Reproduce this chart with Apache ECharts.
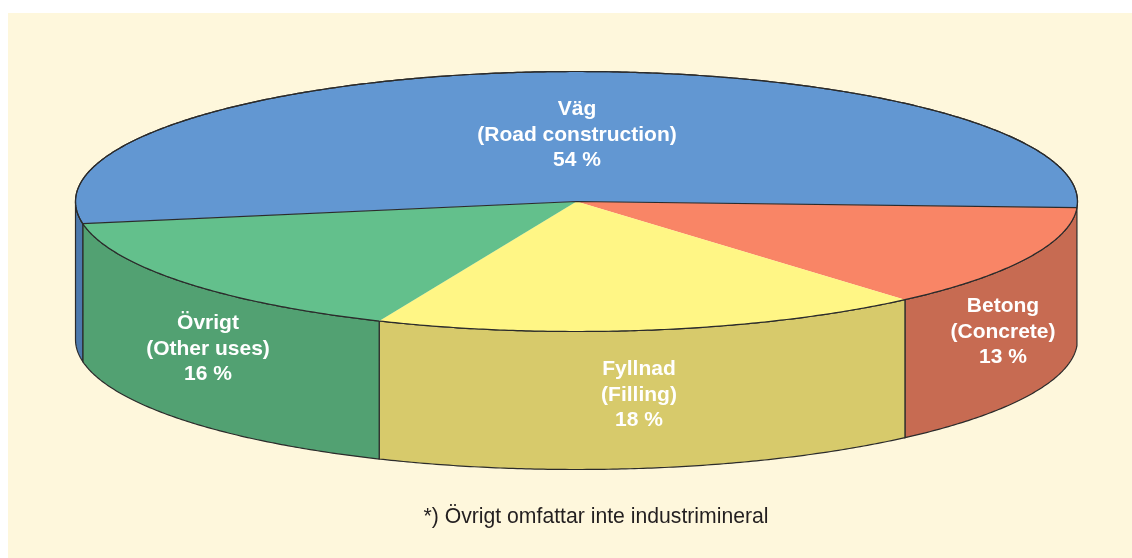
<!DOCTYPE html>
<html>
<head>
<meta charset="utf-8">
<style>
  html, body { margin: 0; padding: 0; background: #fff; }
  #chart { width: 1132px; height: 558px; }
</style>
<script src="https://cdn.jsdelivr.net/npm/echarts@6/dist/echarts.min.js"></script>
</head>
<body>
<div id="chart"></div>
<script>
// clockwise from the right hand side of the disc
const names = ["Betong\n(Concrete)", "Fyllnad\n(Filling)", "Övrigt\n(Other uses)", "Väg\n(Road construction)"];
const shares = [13, 18, 16, 54];
const footnote = "*) Övrigt omfattar inte industrimineral";

const topColors = ["#f98566", "#fff685", "#63c08c", "#6297d2"];
const sideColors = ["#c76b52", "#d7ca6b", "#52a172", "#4c79ad"];
const labelAt = [[1003, 332], [639, 395], [208, 349], [577, 135]];

const cx = 576.5, cy = 201.5, rx = 501, ry = 130, depth = 138;
const startDeg = 2.7;
const lineColor = "#2b2b2b";
const total = shares.reduce((a, b) => a + b, 0);

function sliceRange(i) {
  let from = startDeg;
  for (let k = 0; k < i; k++) from += shares[k] / total * 360;
  return [from, from + shares[i] / total * 360];
}

function arc(from, to, dy) {
  const pts = [];
  const n = Math.max(2, Math.ceil(Math.abs(to - from) * 2));
  for (let k = 0; k <= n; k++) {
    const a = (from + (to - from) * k / n) * Math.PI / 180;
    pts.push([cx + rx * Math.cos(a), cy + ry * Math.sin(a) + dy]);
  }
  return pts;
}

// wall of the disc, only the front half (0-180 deg) can be seen
function renderSide(params) {
  const i = params.dataIndex;
  const [from, to] = sliceRange(i);
  const ranges = [[Math.max(from, 0), Math.min(to, 180)]].filter((r) => r[1] > r[0]);
  return {
    type: "group",
    children: ranges.map((r) => ({
      type: "polygon",
      shape: { points: arc(r[0], r[1], 0).concat(arc(r[1], r[0], depth)) },
      style: { fill: sideColors[i], stroke: lineColor, lineWidth: 1.2 },
    })),
  };
}

function renderTop(params) {
  const i = params.dataIndex;
  const [from, to] = sliceRange(i);
  const rim = arc(from, to, 0);
  const closed = i === names.length - 1;
  return {
    type: "group",
    children: [
      {
        type: "polygon",
        shape: { points: [[cx, cy]].concat(rim) },
        style: { fill: topColors[i], stroke: closed ? lineColor : null, lineWidth: 1.2 },
      },
      {
        type: "polyline",
        shape: { points: rim },
        style: { fill: null, stroke: lineColor, lineWidth: 1.2 },
      },
    ],
  };
}

function renderLabel(params) {
  const i = params.dataIndex;
  return {
    type: "text",
    x: labelAt[i][0],
    y: labelAt[i][1],
    style: {
      text: names[i] + "\n" + shares[i] + " %",
      fill: "#fff",
      font: "bold 21px 'Liberation Sans', Arial, sans-serif",
      lineHeight: 25.5,
      align: "center",
      verticalAlign: "middle",
    },
  };
}

const chart = echarts.init(document.getElementById("chart"), null, { renderer: "canvas" });
chart.setOption({
  animation: false,
  backgroundColor: "#fff",
  graphic: [
    {
      type: "rect",
      shape: { x: 8, y: 13, width: 1124, height: 545 },
      style: { fill: "#fef7dc" },
    },
    {
      type: "text",
      x: 596,
      y: 517,
      style: {
        text: footnote,
        fill: "#231f20",
        font: "21.2px 'Liberation Sans', Arial, sans-serif",
        align: "center",
        verticalAlign: "middle",
      },
    },
  ],
  series: [
    { type: "custom", coordinateSystem: "none", z: 2, data: shares, renderItem: renderSide },
    { type: "custom", coordinateSystem: "none", z: 3, data: shares, renderItem: renderTop },
    { type: "custom", coordinateSystem: "none", z: 4, data: shares, renderItem: renderLabel },
  ],
});
window.addEventListener("resize", () => chart.resize());
</script>
</body>
</html>
